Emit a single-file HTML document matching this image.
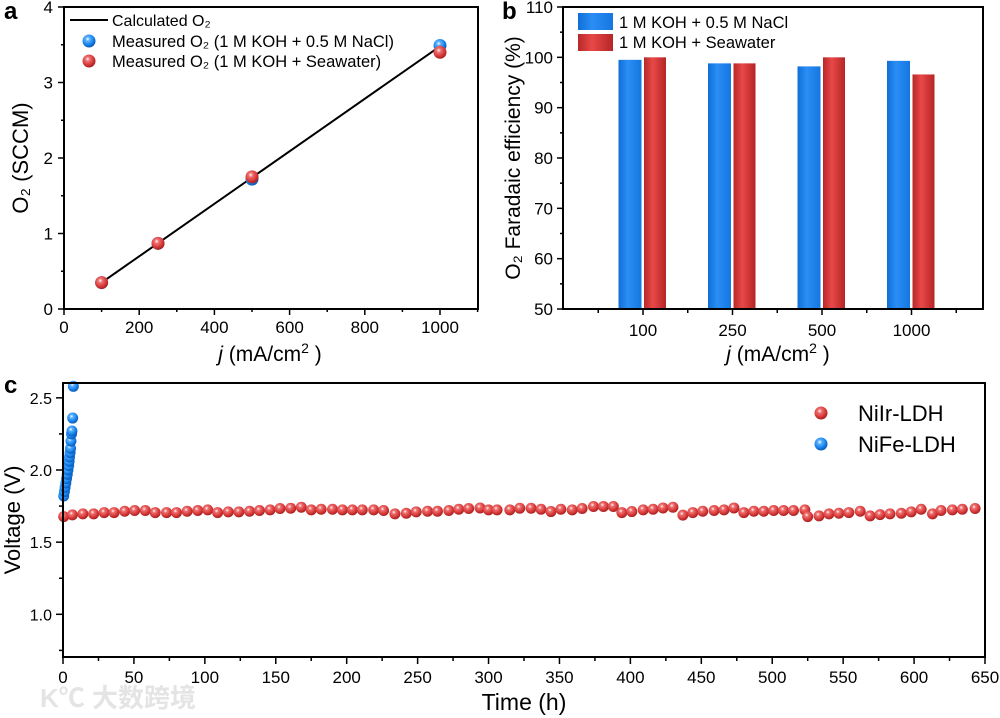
<!DOCTYPE html>
<html><head><meta charset="utf-8"><style>
body{margin:0;background:#fff;}
svg{display:block;font-family:"Liberation Sans","Noto Sans CJK SC",sans-serif;}
</style></head><body>
<svg id="fig" width="1000" height="718" viewBox="0 0 1000 718">
<defs>
<radialGradient id="gRed" cx="0.4" cy="0.35" r="0.65"><stop offset="0" stop-color="#fff"/><stop offset="0.25" stop-color="#ef7070"/><stop offset="0.7" stop-color="#d53838"/><stop offset="1" stop-color="#a82020"/></radialGradient>
<radialGradient id="gBlue" cx="0.4" cy="0.35" r="0.65"><stop offset="0" stop-color="#fff"/><stop offset="0.25" stop-color="#5ab0ff"/><stop offset="0.7" stop-color="#1580ea"/><stop offset="1" stop-color="#0a5ab8"/></radialGradient>
<linearGradient id="bBlue" x1="0" x2="1"><stop offset="0" stop-color="#0f6fd6"/><stop offset="0.4" stop-color="#2a8ef5"/><stop offset="1" stop-color="#1576e0"/></linearGradient>
<linearGradient id="bRed" x1="0" x2="1"><stop offset="0" stop-color="#b82828"/><stop offset="0.4" stop-color="#e84848"/><stop offset="1" stop-color="#b52525"/></linearGradient>
</defs>
<g id="pa"></g>
<g id="pb"></g>
<g id="pc"></g>
<text x="40" y="707" font-size="26" fill="#e4e4e4" font-weight="bold">K℃ 大数跨境</text>
</svg>
<script>
// Panel a data
const aJ = [100, 250, 500, 1000];
const aBlue = [0.35, 0.87, 1.72, 3.49];
const aRed = [0.35, 0.87, 1.75, 3.40];
const aCalcJ = [100, 1000];
const aCalc = [0.35, 3.48];
const aXTicks = [0, 200, 400, 600, 800, 1000];
const aYTicks = [0, 1, 2, 3, 4];
// Panel b data
const bCats = ["100", "250", "500", "1000"];
const bBlue = [99.5, 98.8, 98.2, 99.3];
const bRed = [100, 98.8, 100, 96.6];
const bYTicks = [50, 60, 70, 80, 90, 100, 110];
// Panel c data
const cTime = [0.5,6.6,14,21.6,29,36,43.5,50.5,58,65,73,80,87.5,95,102,109,116.5,124,131.5,138.5,146,153,160.5,168,175,182,190,197,204,211,219,226,234,242,249,257,264,272,279,286,294,300,306,315,322,330,337,344,351,359,366,374,381,388,394,401,409,416,423,430,437,444,451,459,466,473,480,487,494,501,508,515,523,525,533,540,547,554,562,569,576,583,591,598,605,613,619,627,634,643];
const cNiIr = [1.677,1.689,1.696,1.696,1.705,1.705,1.714,1.719,1.719,1.705,1.705,1.705,1.714,1.719,1.724,1.705,1.710,1.710,1.714,1.719,1.724,1.733,1.735,1.742,1.724,1.728,1.728,1.724,1.724,1.724,1.724,1.719,1.696,1.700,1.710,1.714,1.714,1.719,1.728,1.733,1.737,1.724,1.724,1.724,1.735,1.735,1.728,1.712,1.728,1.724,1.733,1.747,1.747,1.747,1.705,1.712,1.724,1.728,1.737,1.742,1.687,1.705,1.714,1.719,1.724,1.737,1.705,1.714,1.714,1.719,1.719,1.719,1.724,1.677,1.682,1.696,1.700,1.705,1.714,1.682,1.691,1.696,1.700,1.710,1.728,1.696,1.719,1.724,1.728,1.733];
const cFeT = [0.5,1,1.5,2,2.5,3,3.5,4,4.3,4.6,5,5.3,5.6,6,6.3,6.8,7.3];
const cNiFe = [1.82,1.85,1.88,1.91,1.94,1.97,2.0,2.03,2.06,2.09,2.12,2.15,2.2,2.25,2.27,2.36,2.58];
const cXTicks = [0,50,100,150,200,250,300,350,400,450,500,550,600,650];
const cYTicks = [1.0,1.5,2.0,2.5];

const NS="http://www.w3.org/2000/svg";
function mk(parent,tag,attrs,text){const e=document.createElementNS(NS,tag);for(const k in attrs)e.setAttribute(k,attrs[k]);if(text!==undefined)e.textContent=text;parent.appendChild(e);return e;}
function lin(d0,d1,r0,r1){return v=>r0+(v-d0)/(d1-d0)*(r1-r0);}

// ---------- Panel a ----------
const pa=document.getElementById('pa');
const ax=lin(0,1000,64,440), ay=lin(0,4,309,7);
let el;
for(let v=0;v<=1100;v+=100){el=mk(pa,'line',{x1:ax(v),x2:ax(v),y1:309,y2:v%200===0?315:312,stroke:'#000','stroke-width':1.5});
}
for(let v=0;v<=4;v+=0.5){el=mk(pa,'line',{x1:v%1===0?58:61,x2:64,y1:ay(v),y2:ay(v),stroke:'#000','stroke-width':1.5});
}
aXTicks.forEach(v=>{el=mk(pa,'text',{x:ax(v),y:333,'font-size':17,'text-anchor':'middle'},String(v));
});
aYTicks.forEach(v=>{el=mk(pa,'text',{x:53,y:ay(v)+6,'font-size':17,'text-anchor':'end'},String(v));
});
el=mk(pa,'line',{x1:ax(aCalcJ[0]),y1:ay(aCalc[0]),x2:ax(aCalcJ[1]),y2:ay(aCalc[1]),stroke:'#000','stroke-width':2});

aJ.forEach((j,i)=>{el=mk(pa,'circle',{cx:ax(j),cy:ay(aBlue[i]),r:6.5,fill:'url(#gBlue)'});
});
aJ.forEach((j,i)=>{el=mk(pa,'circle',{cx:ax(j),cy:ay(aRed[i]),r:6.5,fill:'url(#gRed)'});
});
el=mk(pa,'rect',{x:64,y:7,width:414,height:302,fill:'none',stroke:'#000','stroke-width':2});

el=mk(pa,'line',{x1:70,x2:108,y1:20,y2:20,stroke:'#000','stroke-width':2});

el=mk(pa,'text',{x:112,y:26,'font-size':16},'Calculated O₂');

el=mk(pa,'circle',{cx:89,cy:41,r:6.5,fill:'url(#gBlue)'});

el=mk(pa,'text',{x:112,y:47,'font-size':16.5},'Measured O₂ (1 M KOH + 0.5 M NaCl)');

el=mk(pa,'circle',{cx:89,cy:61,r:6.5,fill:'url(#gRed)'});

el=mk(pa,'text',{x:112,y:67,'font-size':16.5},'Measured O₂ (1 M KOH + Seawater)');

el=mk(pa,'text',{x:270,y:361,'font-size':21,'text-anchor':'middle'});
el.innerHTML='<tspan font-style="italic">j</tspan> (mA/cm<tspan dy="-8" font-size="14">2</tspan><tspan dy="8"> )</tspan>';

el=mk(pa,'text',{x:0,y:0,'font-size':22,'text-anchor':'middle',transform:'translate(28,158) rotate(-90)'},'O₂ (SCCM)');

el=mk(pa,'text',{x:4,y:19,'font-size':24,'font-weight':'bold'},'a');


// ---------- Panel b ----------
const pb=document.getElementById('pb');
const bx=i=>643+i*89.5, by=lin(50,110,309,7);
for(let v=50;v<=110;v+=5){el=mk(pb,'line',{x1:v%10===0?557:560,x2:563,y1:by(v),y2:by(v),stroke:'#000','stroke-width':1.5});
}
for(let k=-0.5;k<=3.5;k+=0.5){el=mk(pb,'line',{x1:bx(k),x2:bx(k),y1:309,y2:Number.isInteger(k)?315:313,stroke:'#000','stroke-width':1.5});
}
bYTicks.forEach(v=>{el=mk(pb,'text',{x:553,y:by(v)+6,'font-size':17,'text-anchor':'end'},String(v));
});
bCats.forEach((c,i)=>{el=mk(pb,'text',{x:bx(i),y:336,'font-size':17,'text-anchor':'middle'},c);
});
bCats.forEach((c,i)=>{
el=mk(pb,'rect',{x:bx(i)-24.5,y:by(bBlue[i]),width:23,height:309-by(bBlue[i]),fill:'url(#bBlue)'});

el=mk(pb,'rect',{x:bx(i)+1,y:by(bRed[i]),width:22,height:309-by(bRed[i]),fill:'url(#bRed)'});
});
el=mk(pb,'rect',{x:563,y:7,width:420,height:302,fill:'none',stroke:'#000','stroke-width':2});

el=mk(pb,'rect',{x:578,y:13,width:35,height:17,fill:'url(#bBlue)'});

el=mk(pb,'text',{x:619,y:28,'font-size':16.5},'1 M KOH + 0.5 M NaCl');

el=mk(pb,'rect',{x:578,y:34,width:35,height:17,fill:'url(#bRed)'});

el=mk(pb,'text',{x:619,y:48,'font-size':16.5},'1 M KOH + Seawater');

el=mk(pb,'text',{x:778,y:361,'font-size':21,'text-anchor':'middle'});
el.innerHTML='<tspan font-style="italic">j</tspan> (mA/cm<tspan dy="-8" font-size="14">2</tspan><tspan dy="8"> )</tspan>';

el=mk(pb,'text',{x:0,y:0,'font-size':21,'text-anchor':'middle',transform:'translate(520,158) rotate(-90)'},'O₂ Faradaic efficiency (%)');

el=mk(pb,'text',{x:502,y:19,'font-size':24,'font-weight':'bold'},'b');


// ---------- Panel c ----------
const pc=document.getElementById('pc');
const cx=lin(0,650,63,985), cy=lin(1.0,2.0,614.3,470);
for(let v=0;v<=650;v+=25){el=mk(pc,'line',{x1:cx(v),x2:cx(v),y1:657,y2:v%50===0?664:661,stroke:'#000','stroke-width':1.5});
}
for(let v=0.75;v<=2.5;v+=0.25){el=mk(pc,'line',{x1:v%0.5===0?56:59,x2:63,y1:cy(v),y2:cy(v),stroke:'#000','stroke-width':1.5});
}
cXTicks.forEach(v=>{el=mk(pc,'text',{x:cx(v),y:683,'font-size':17,'text-anchor':'middle'},String(v));
});
cYTicks.forEach(v=>{el=mk(pc,'text',{x:52,y:cy(v)+6,'font-size':16,'text-anchor':'end'},v.toFixed(1));
});
cTime.forEach((t,i)=>{el=mk(pc,'circle',{cx:cx(t),cy:cy(cNiIr[i]),r:5.5,fill:'url(#gRed)'});
});
cFeT.forEach((t,i)=>{el=mk(pc,'circle',{cx:cx(t),cy:cy(cNiFe[i]),r:5.5,fill:'url(#gBlue)'});
});
el=mk(pc,'rect',{x:63,y:383,width:922,height:274,fill:'none',stroke:'#000','stroke-width':2});

el=mk(pc,'circle',{cx:821,cy:413,r:6.5,fill:'url(#gRed)'});

el=mk(pc,'text',{x:858,y:421,'font-size':22},'NiIr-LDH');

el=mk(pc,'circle',{cx:821,cy:444,r:6.5,fill:'url(#gBlue)'});

el=mk(pc,'text',{x:858,y:452,'font-size':22},'NiFe-LDH');

el=mk(pc,'text',{x:524,y:710,'font-size':23,'text-anchor':'middle'},'Time (h)');

el=mk(pc,'text',{x:0,y:0,'font-size':22,'text-anchor':'middle',transform:'translate(20,520) rotate(-90)'},'Voltage (V)');

el=mk(pc,'text',{x:4,y:393,'font-size':24,'font-weight':'bold'},'c');

</script>
</body></html>
